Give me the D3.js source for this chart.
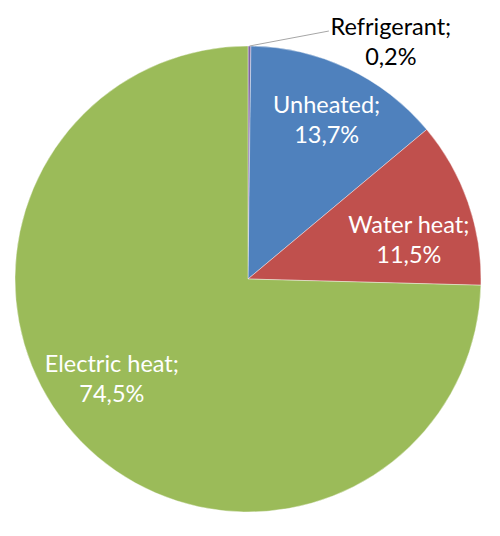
<!DOCTYPE html>
<html>
<head>
<meta charset="utf-8">
<script src="https://cdn.jsdelivr.net/npm/d3@7"></script>
<style>
  html, body { margin: 0; padding: 0; background: #fff; }
  text { font-family: Lato, "Noto Sans", sans-serif; font-size: 23.5px; }
</style>
</head>
<body>
<script>
// data, clockwise from 12 o'clock
var categories = ["Refrigerant", "Unheated", "Water heat", "Electric heat"];
var values = [0.2, 13.7, 11.5, 74.5];
var colors = ["#8064A2", "#4F81BD", "#C0504D", "#9BBB59"];

var width = 500, height = 536;
var cx = 248, cy = 279, radius = 233;

// label placement (radius, angle nudge in radians), like excel's best fit
var labelR = [275, 176, 165, 170];
var labelShift = [0.54, 0.02, 0.11, 0.13];

var svg = d3.select("body").append("svg")
  .attr("width", width)
  .attr("height", height);

var g = svg.append("g").attr("transform", "translate(" + cx + "," + cy + ")");

var rows = categories.map(function(c, i) { return {name: c, value: values[i], color: colors[i]}; });

var pie = d3.pie().sort(null).value(function(d) { return d.value; });
var path = d3.arc().outerRadius(radius).innerRadius(0);

var arcs = pie(rows);

g.selectAll("path")
  .data(arcs)
  .enter()
  .append("path")
  .attr("d", path)
  .attr("fill", function(d) { return d.data.color; })
  .attr("stroke", "#fff")
  .attr("stroke-width", 0.4);

function labelPos(d, i) {
  var a = (d.startAngle + d.endAngle) / 2 + labelShift[i];
  return [Math.sin(a) * labelR[i], -Math.cos(a) * labelR[i]];
}

var fmt = function(v) { return d3.format(".1f")(v).replace(".", ",") + "%"; };

// leader line for the tiny slice outside
var ref = arcs[0];
var mid = (ref.startAngle + ref.endAngle) / 2;
var p = labelPos(ref, 0);
g.append("line")
  .attr("x1", Math.sin(mid) * radius)
  .attr("y1", -Math.cos(mid) * radius)
  .attr("x2", p[0] - 62)
  .attr("y2", p[1] - 13)
  .attr("stroke", "#a6a6a6")
  .attr("stroke-width", 1);

var lab = g.selectAll(".label")
  .data(arcs)
  .enter()
  .append("text")
  .attr("class", "label")
  .attr("text-anchor", "middle")
  .attr("fill", function(d, i) { return i == 0 ? "#000" : "#fff"; })
  .attr("transform", function(d, i) { return "translate(" + labelPos(d, i) + ")"; });

lab.append("tspan")
  .attr("x", 0)
  .attr("y", -9)
  .text(function(d) { return d.data.name + ";"; });

lab.append("tspan")
  .attr("x", 0)
  .attr("y", 21)
  .text(function(d) { return fmt(d.data.value); });
</script>
</body>
</html>
